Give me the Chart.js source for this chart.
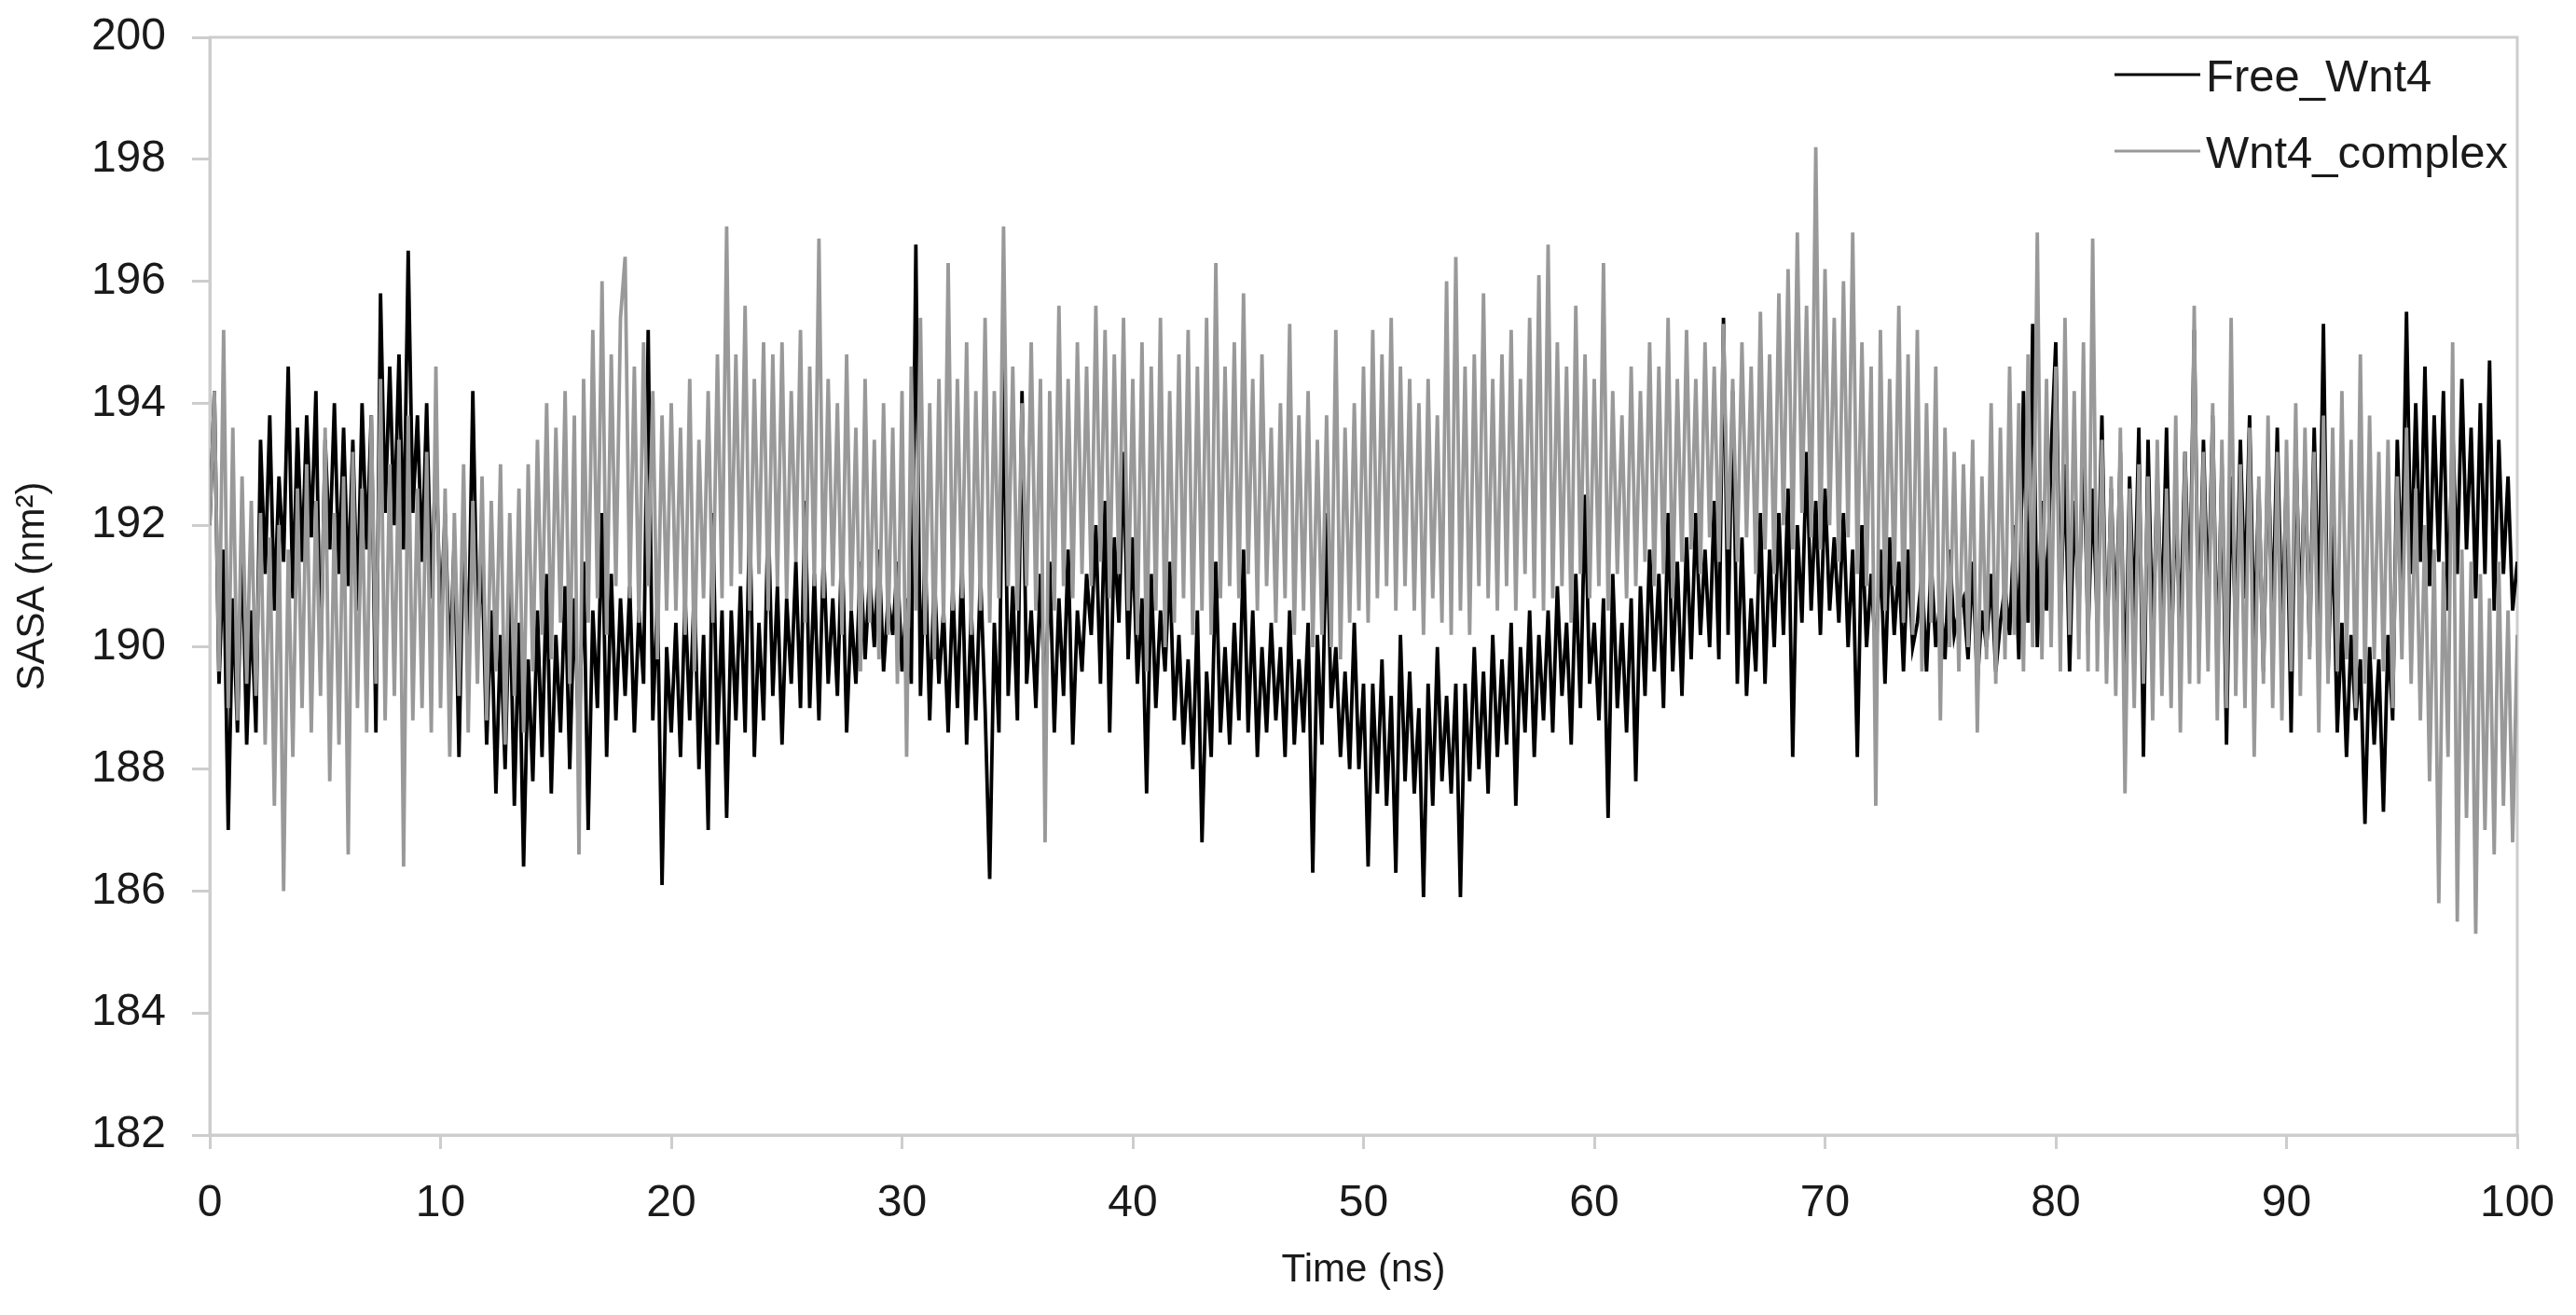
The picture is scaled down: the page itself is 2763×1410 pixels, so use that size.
<!DOCTYPE html>
<html>
<head>
<meta charset="utf-8">
<title>SASA vs time</title>
<script src="https://cdn.jsdelivr.net/npm/chart.js@4.4.1/dist/chart.umd.min.js"></script>
<style>
  html, body { margin: 0; padding: 0; background: #ffffff; }
  canvas { display: block; }
</style>
</head>
<body>
<canvas id="sasa-chart" width="2763" height="1410"></canvas>
<script>
// SASA (nm^2), one value every 0.2 ns
const freeWnt4 = [
  192.0, 194.2, 189.4, 191.6, 187.0, 190.8, 188.6, 191.8, 188.4, 190.6,
  188.6, 193.4, 191.2, 193.8, 190.6, 192.8, 191.4, 194.6, 190.8, 193.6,
  191.4, 193.8, 191.8, 194.2, 189.6, 193.4, 191.6, 194.0, 191.2, 193.6,
  191.0, 193.4, 190.6, 194.0, 191.6, 193.8, 188.6, 195.8, 192.2, 194.6,
  192.0, 194.8, 191.6, 196.5, 192.2, 193.8, 191.4, 194.0, 190.8, 193.2,
  190.4, 192.2, 189.6, 191.8, 188.2, 192.0, 189.8, 194.2, 190.2, 191.4,
  188.4, 190.6, 187.6, 190.2, 188.0, 191.0, 187.4, 190.4, 186.4, 189.8,
  187.8, 190.6, 188.2, 191.2, 187.6, 190.2, 188.6, 191.0, 188.0, 190.8,
  188.4, 191.4, 187.0, 190.6, 189.0, 192.2, 188.2, 191.2, 188.8, 190.8,
  189.2, 191.0, 188.6, 190.6, 189.4, 195.2, 188.8, 190.8, 186.1, 190.0,
  // 20 ns
  188.6, 190.4, 188.2, 190.8, 188.8, 191.0, 188.0, 190.2, 187.0, 192.2,
  188.4, 190.6, 187.2, 190.6, 188.8, 191.0, 188.6, 192.2, 188.2, 190.4,
  188.8, 192.2, 189.2, 191.0, 188.4, 190.8, 189.4, 191.4, 189.0, 192.4,
  189.0, 191.2, 188.8, 191.6, 189.4, 190.8, 189.2, 191.8, 188.6, 190.6,
  189.4, 191.4, 189.8, 191.2, 190.0, 191.6, 189.6, 190.8, 190.2, 191.4,
  189.6, 190.8, 189.4, 196.6, 189.2, 191.6, 188.8, 191.2, 189.4, 190.6,
  188.6, 191.0, 189.0, 191.4, 188.4, 190.6, 188.8, 191.2, 189.0, 186.2,
  190.4, 188.6, 194.7, 189.2, 191.0, 188.8, 194.2, 189.4, 190.6, 189.0,
  191.2, 189.0, 191.4, 188.6, 190.8, 189.2, 191.6, 188.4, 190.6, 189.6,
  191.2, 190.2, 192.0, 189.4, 192.4, 188.6, 191.8, 190.4, 193.2, 189.8,
  // 40 ns
  191.8, 189.4, 190.8, 187.6, 191.2, 189.0, 190.6, 189.6, 191.4, 188.8,
  190.2, 188.4, 189.8, 188.0, 190.6, 186.8, 189.6, 188.2, 191.4, 188.6,
  190.0, 188.4, 190.4, 188.8, 191.6, 188.6, 190.6, 188.2, 190.0, 188.6,
  190.4, 188.8, 190.0, 188.2, 190.6, 188.4, 189.8, 188.6, 190.4, 186.3,
  190.2, 188.4, 192.2, 189.0, 190.0, 188.2, 189.6, 188.0, 190.4, 188.0,
  189.4, 186.4, 189.4, 187.6, 189.8, 187.4, 189.2, 186.3, 190.2, 187.8,
  189.6, 187.6, 189.0, 185.9, 189.4, 187.4, 190.0, 187.8, 189.2, 187.6,
  189.4, 185.9, 189.4, 187.8, 190.0, 188.0, 189.6, 187.6, 190.2, 188.2,
  189.8, 188.4, 190.4, 187.4, 190.0, 188.6, 190.6, 188.2, 190.2, 188.8,
  190.6, 188.6, 191.0, 189.2, 190.4, 188.4, 191.2, 189.0, 192.5, 189.4,
  // 60 ns
  190.4, 188.8, 190.8, 187.2, 191.2, 189.0, 190.4, 188.6, 190.8, 187.8,
  191.0, 189.2, 191.6, 189.6, 191.2, 189.0, 192.2, 189.6, 191.4, 189.2,
  191.8, 189.8, 192.2, 190.2, 191.6, 190.0, 192.4, 189.8, 195.4, 190.2,
  194.2, 189.4, 191.8, 189.2, 190.8, 189.6, 192.2, 189.4, 191.6, 190.0,
  192.2, 190.2, 192.6, 188.2, 192.0, 190.4, 193.2, 190.6, 192.4, 190.2,
  192.6, 190.6, 191.8, 190.4, 192.2, 190.0, 191.6, 188.2, 192.0, 190.0,
  191.2, 189.8, 191.6, 189.4, 191.8, 190.2, 191.4, 189.6, 191.6, 190.0,
  190.4, 191.2, 189.6, 191.4, 190.0, 190.8, 189.8, 191.6, 190.2, 190.6,
  190.8, 189.8, 191.4, 189.4, 190.6, 190.0, 191.2, 189.6, 190.4, 191.0,
  190.2, 192.0, 189.8, 194.2, 190.4, 195.3, 190.0, 192.4, 190.6, 193.2,
  // 80 ns
  195.0, 190.4, 193.0, 189.6, 192.4, 190.6, 193.4, 190.2, 192.6, 190.4,
  193.8, 189.8, 192.6, 190.2, 193.2, 189.0, 192.8, 190.4, 193.6, 188.2,
  193.4, 190.0, 192.8, 190.4, 193.6, 189.8, 192.4, 190.2, 193.2, 190.6,
  195.2, 190.0, 193.4, 190.6, 193.8, 189.6, 193.0, 188.4, 192.8, 190.2,
  193.4, 190.8, 193.8, 190.0, 192.6, 189.6, 193.2, 190.4, 193.6, 190.2,
  192.8, 188.6, 193.4, 190.4, 193.0, 190.0, 193.6, 190.4, 195.3, 189.6,
  192.0, 188.6, 190.4, 188.2, 190.2, 188.8, 189.8, 187.1, 190.0, 188.4,
  189.8, 187.3, 190.2, 188.8, 193.4, 191.0, 195.5, 191.2, 194.0, 191.4,
  194.6, 191.0, 193.8, 191.4, 194.2, 190.6, 193.6, 191.2, 194.4, 191.6,
  193.6, 190.8, 194.0, 191.2, 194.7, 190.6, 193.4, 191.2, 192.8, 190.6,
  191.4
];

const wnt4Complex = [
  192.0, 194.2, 189.6, 195.2, 189.0, 193.6, 188.8, 192.8, 189.4, 192.4,
  189.2, 192.2, 188.4, 191.8, 187.4, 192.0, 186.0, 191.6, 188.2, 192.6,
  189.0, 193.0, 188.6, 192.4, 189.2, 193.6, 187.8, 192.2, 188.4, 192.8,
  186.6, 193.2, 189.0, 192.6, 188.6, 193.8, 189.4, 194.4, 188.8, 193.0,
  189.2, 193.4, 186.4, 193.8, 188.8, 192.6, 189.0, 193.2, 188.6, 194.6,
  189.0, 192.6, 188.2, 192.2, 189.2, 193.0, 188.6, 192.4, 189.4, 192.8,
  188.8, 192.4, 189.6, 193.0, 188.4, 192.2, 189.2, 192.6, 188.6, 193.0,
  189.6, 193.4, 190.2, 194.0, 189.8, 193.6, 190.4, 194.2, 189.4, 193.8,
  186.6, 194.4, 190.4, 195.2, 190.8, 196.0, 190.2, 194.8, 191.0, 195.4,
  196.4, 190.8, 194.6, 190.4, 195.0, 191.0, 194.2, 189.8, 193.8, 190.6,
  // 20 ns
  194.0, 190.6, 193.6, 190.2, 194.4, 189.6, 193.4, 190.8, 194.2, 190.4,
  194.8, 190.8, 196.9, 191.0, 194.8, 191.2, 195.6, 190.6, 194.4, 191.2,
  195.0, 190.6, 194.8, 191.0, 195.0, 190.8, 194.2, 191.4, 195.2, 190.4,
  194.6, 191.0, 196.7, 190.8, 194.4, 191.0, 194.0, 190.2, 194.8, 190.6,
  193.6, 189.6, 194.4, 190.4, 193.4, 189.8, 194.0, 190.2, 193.6, 189.4,
  194.2, 188.2, 194.6, 190.6, 195.4, 190.2, 194.0, 189.8, 194.4, 190.4,
  196.3, 190.6, 194.4, 190.8, 195.0, 190.2, 194.2, 190.6, 195.4, 190.4,
  194.2, 190.8, 196.9, 191.0, 194.6, 190.6, 194.0, 191.0, 195.0, 190.6,
  194.4, 186.8, 194.2, 190.6, 195.6, 191.0, 194.4, 190.8, 195.0, 191.2,
  194.6, 191.0, 195.6, 191.4, 195.2, 190.8, 194.8, 191.2, 195.4, 190.6,
  // 40 ns
  194.4, 190.2, 195.0, 189.6, 194.6, 190.6, 195.4, 190.0, 194.2, 190.4,
  194.8, 190.8, 195.2, 190.2, 194.6, 190.6, 195.4, 190.2, 196.3, 190.8,
  194.6, 191.0, 195.0, 190.8, 195.8, 191.2, 194.4, 190.6, 194.8, 191.0,
  193.6, 190.4, 194.0, 190.8, 195.3, 190.2, 193.8, 190.6, 194.2, 190.0,
  193.4, 190.2, 193.8, 190.0, 195.2, 189.8, 193.6, 190.4, 194.0, 190.6,
  194.6, 190.4, 195.2, 190.8, 194.8, 191.0, 195.4, 190.6, 194.6, 191.0,
  194.4, 190.6, 194.0, 190.2, 194.4, 190.8, 193.8, 190.4, 196.0, 190.2,
  196.4, 190.6, 194.6, 190.2, 194.8, 191.0, 195.8, 190.8, 194.4, 190.6,
  194.8, 191.0, 195.2, 190.6, 194.4, 191.2, 195.4, 190.8, 196.1, 190.6,
  196.6, 190.8, 195.0, 191.0, 194.6, 190.4, 195.6, 191.2, 194.8, 190.8,
  // 60 ns
  194.4, 191.0, 196.3, 190.6, 194.2, 191.2, 193.8, 190.8, 194.6, 191.0,
  194.2, 191.4, 195.0, 191.0, 194.6, 191.2, 195.4, 190.8, 194.4, 191.4,
  195.2, 191.6, 194.4, 191.2, 195.0, 191.8, 194.6, 191.4, 195.3, 191.6,
  194.4, 191.4, 195.0, 191.8, 194.6, 191.2, 195.5, 191.6, 194.8, 191.2,
  195.8, 192.0, 196.2, 191.6, 196.8, 192.2, 195.6, 191.8, 198.2, 191.6,
  196.2, 192.0, 195.4, 191.4, 196.0, 191.8, 196.8, 191.2, 195.0, 191.0,
  194.6, 187.4, 195.2, 190.6, 194.4, 191.0, 195.6, 190.4, 194.8, 190.2,
  195.2, 189.6, 194.0, 190.4, 194.6, 188.8, 193.6, 190.0, 193.2, 189.6,
  193.0, 190.0, 193.4, 188.6, 192.8, 189.8, 194.0, 189.4, 193.6, 189.8,
  194.6, 190.2, 194.0, 189.6, 194.8, 190.0, 196.8, 189.8, 194.4, 190.0,
  // 80 ns
  194.6, 189.6, 195.4, 190.2, 194.2, 189.8, 195.0, 189.6, 196.7, 189.6,
  193.4, 189.4, 192.8, 189.2, 193.6, 187.6, 192.6, 189.0, 193.0, 189.4,
  192.8, 188.8, 193.4, 189.2, 192.6, 189.0, 193.8, 188.6, 193.2, 189.4,
  195.6, 189.4, 193.2, 189.6, 194.0, 188.8, 193.4, 189.0, 195.4, 189.2,
  193.0, 189.0, 193.6, 188.2, 192.8, 189.4, 193.8, 189.0, 193.2, 188.8,
  193.4, 189.6, 194.0, 189.2, 193.6, 189.8, 193.2, 188.6, 193.8, 189.4,
  193.6, 189.6, 194.2, 189.8, 193.4, 189.0, 194.8, 189.4, 193.8, 189.8,
  193.2, 189.6, 193.4, 189.0, 192.8, 189.8, 193.6, 189.4, 192.6, 188.8,
  192.0, 187.8, 191.6, 185.8, 191.4, 188.2, 195.0, 185.5, 191.6, 187.2,
  191.4, 185.3, 191.2, 187.0, 190.8, 186.6, 191.4, 187.4, 190.6, 186.8,
  190.2
];

const timeStep = 0.2; // ns between saved frames
const timeNs = freeWnt4.map((_, i) => +(i * timeStep).toFixed(1));

const seriesNames = ['Free_Wnt4', 'Wnt4_complex'];
const seriesColors = ['#000000', '#999999'];

const fontFamily = '"Liberation Sans", Arial, sans-serif';
const textColor = '#1a1a1a';
const frameColor = '#cdcdcd';

// grey box around the plot area, like the spreadsheet original
const plotFrame = {
  id: 'plotFrame',
  beforeDatasetsDraw(chart) {
    const { ctx, chartArea: a } = chart;
    ctx.save();
    ctx.strokeStyle = frameColor;
    ctx.lineWidth = 3;
    ctx.strokeRect(a.left, a.top, a.right - a.left, a.bottom - a.top);
    ctx.restore();
  }
};

// legend drawn inside the top right corner of the plot
const cornerLegend = {
  id: 'cornerLegend',
  afterDraw(chart) {
    const { ctx, chartArea: a } = chart;
    const x0 = a.right - 432;
    ctx.save();
    ctx.font = '49px ' + fontFamily;
    ctx.textBaseline = 'alphabetic';
    chart.data.datasets.forEach((ds, i) => {
      const y = a.top + 40 + i * 82;
      ctx.strokeStyle = ds.borderColor;
      ctx.lineWidth = 3;
      ctx.beginPath();
      ctx.moveTo(x0, y);
      ctx.lineTo(x0 + 92, y);
      ctx.stroke();
      ctx.fillStyle = textColor;
      ctx.fillText(ds.label, x0 + 98, y + 18);
    });
    ctx.restore();
  }
};

const toPoints = (values) => values.map((v, i) => ({ x: timeNs[i], y: v }));

new Chart(document.getElementById('sasa-chart'), {
  type: 'line',
  data: {
    datasets: [
      {
        label: seriesNames[0],
        data: toPoints(freeWnt4),
        borderColor: seriesColors[0],
        borderWidth: 3.8,
        pointRadius: 0,
        tension: 0,
        order: 2
      },
      {
        label: seriesNames[1],
        data: toPoints(wnt4Complex),
        borderColor: seriesColors[1],
        borderWidth: 3.8,
        pointRadius: 0,
        tension: 0,
        order: 1
      }
    ]
  },
  options: {
    responsive: false,
    animation: false,
    layout: { padding: { top: 40, right: 63, bottom: 0, left: 0 } },
    plugins: {
      legend: { display: false },
      tooltip: { enabled: false }
    },
    scales: {
      x: {
        type: 'linear',
        min: 0,
        max: 100,
        afterFit: (scale) => {
          scale.height = 193;
          scale.paddingLeft = 0;
          scale.paddingRight = 0;
        },
        ticks: {
          stepSize: 10,
          maxRotation: 0,
          padding: 30,
          color: textColor,
          font: { family: fontFamily, size: 48 }
        },
        grid: {
          drawOnChartArea: false,
          drawTicks: true,
          tickLength: 15,
          color: frameColor,
          lineWidth: 3
        },
        border: { color: frameColor, width: 3 },
        title: {
          display: true,
          text: 'Time (ns)',
          color: textColor,
          font: { family: fontFamily, size: 42 },
          padding: 22
        }
      },
      y: {
        min: 182,
        max: 200,
        afterFit: (scale) => {
          scale.width = 225;
          scale.paddingTop = 0;
          scale.paddingBottom = 0;
        },
        ticks: {
          stepSize: 2,
          padding: 28,
          color: textColor,
          font: { family: fontFamily, size: 48 }
        },
        grid: {
          drawOnChartArea: false,
          drawTicks: true,
          tickLength: 19,
          color: frameColor,
          lineWidth: 3
        },
        border: { color: frameColor, width: 3 },
        title: {
          display: true,
          text: 'SASA (nm²)',
          color: textColor,
          font: { family: fontFamily, size: 42 },
          padding: 10
        }
      }
    }
  },
  plugins: [plotFrame, cornerLegend]
});
</script>
</body>
</html>
